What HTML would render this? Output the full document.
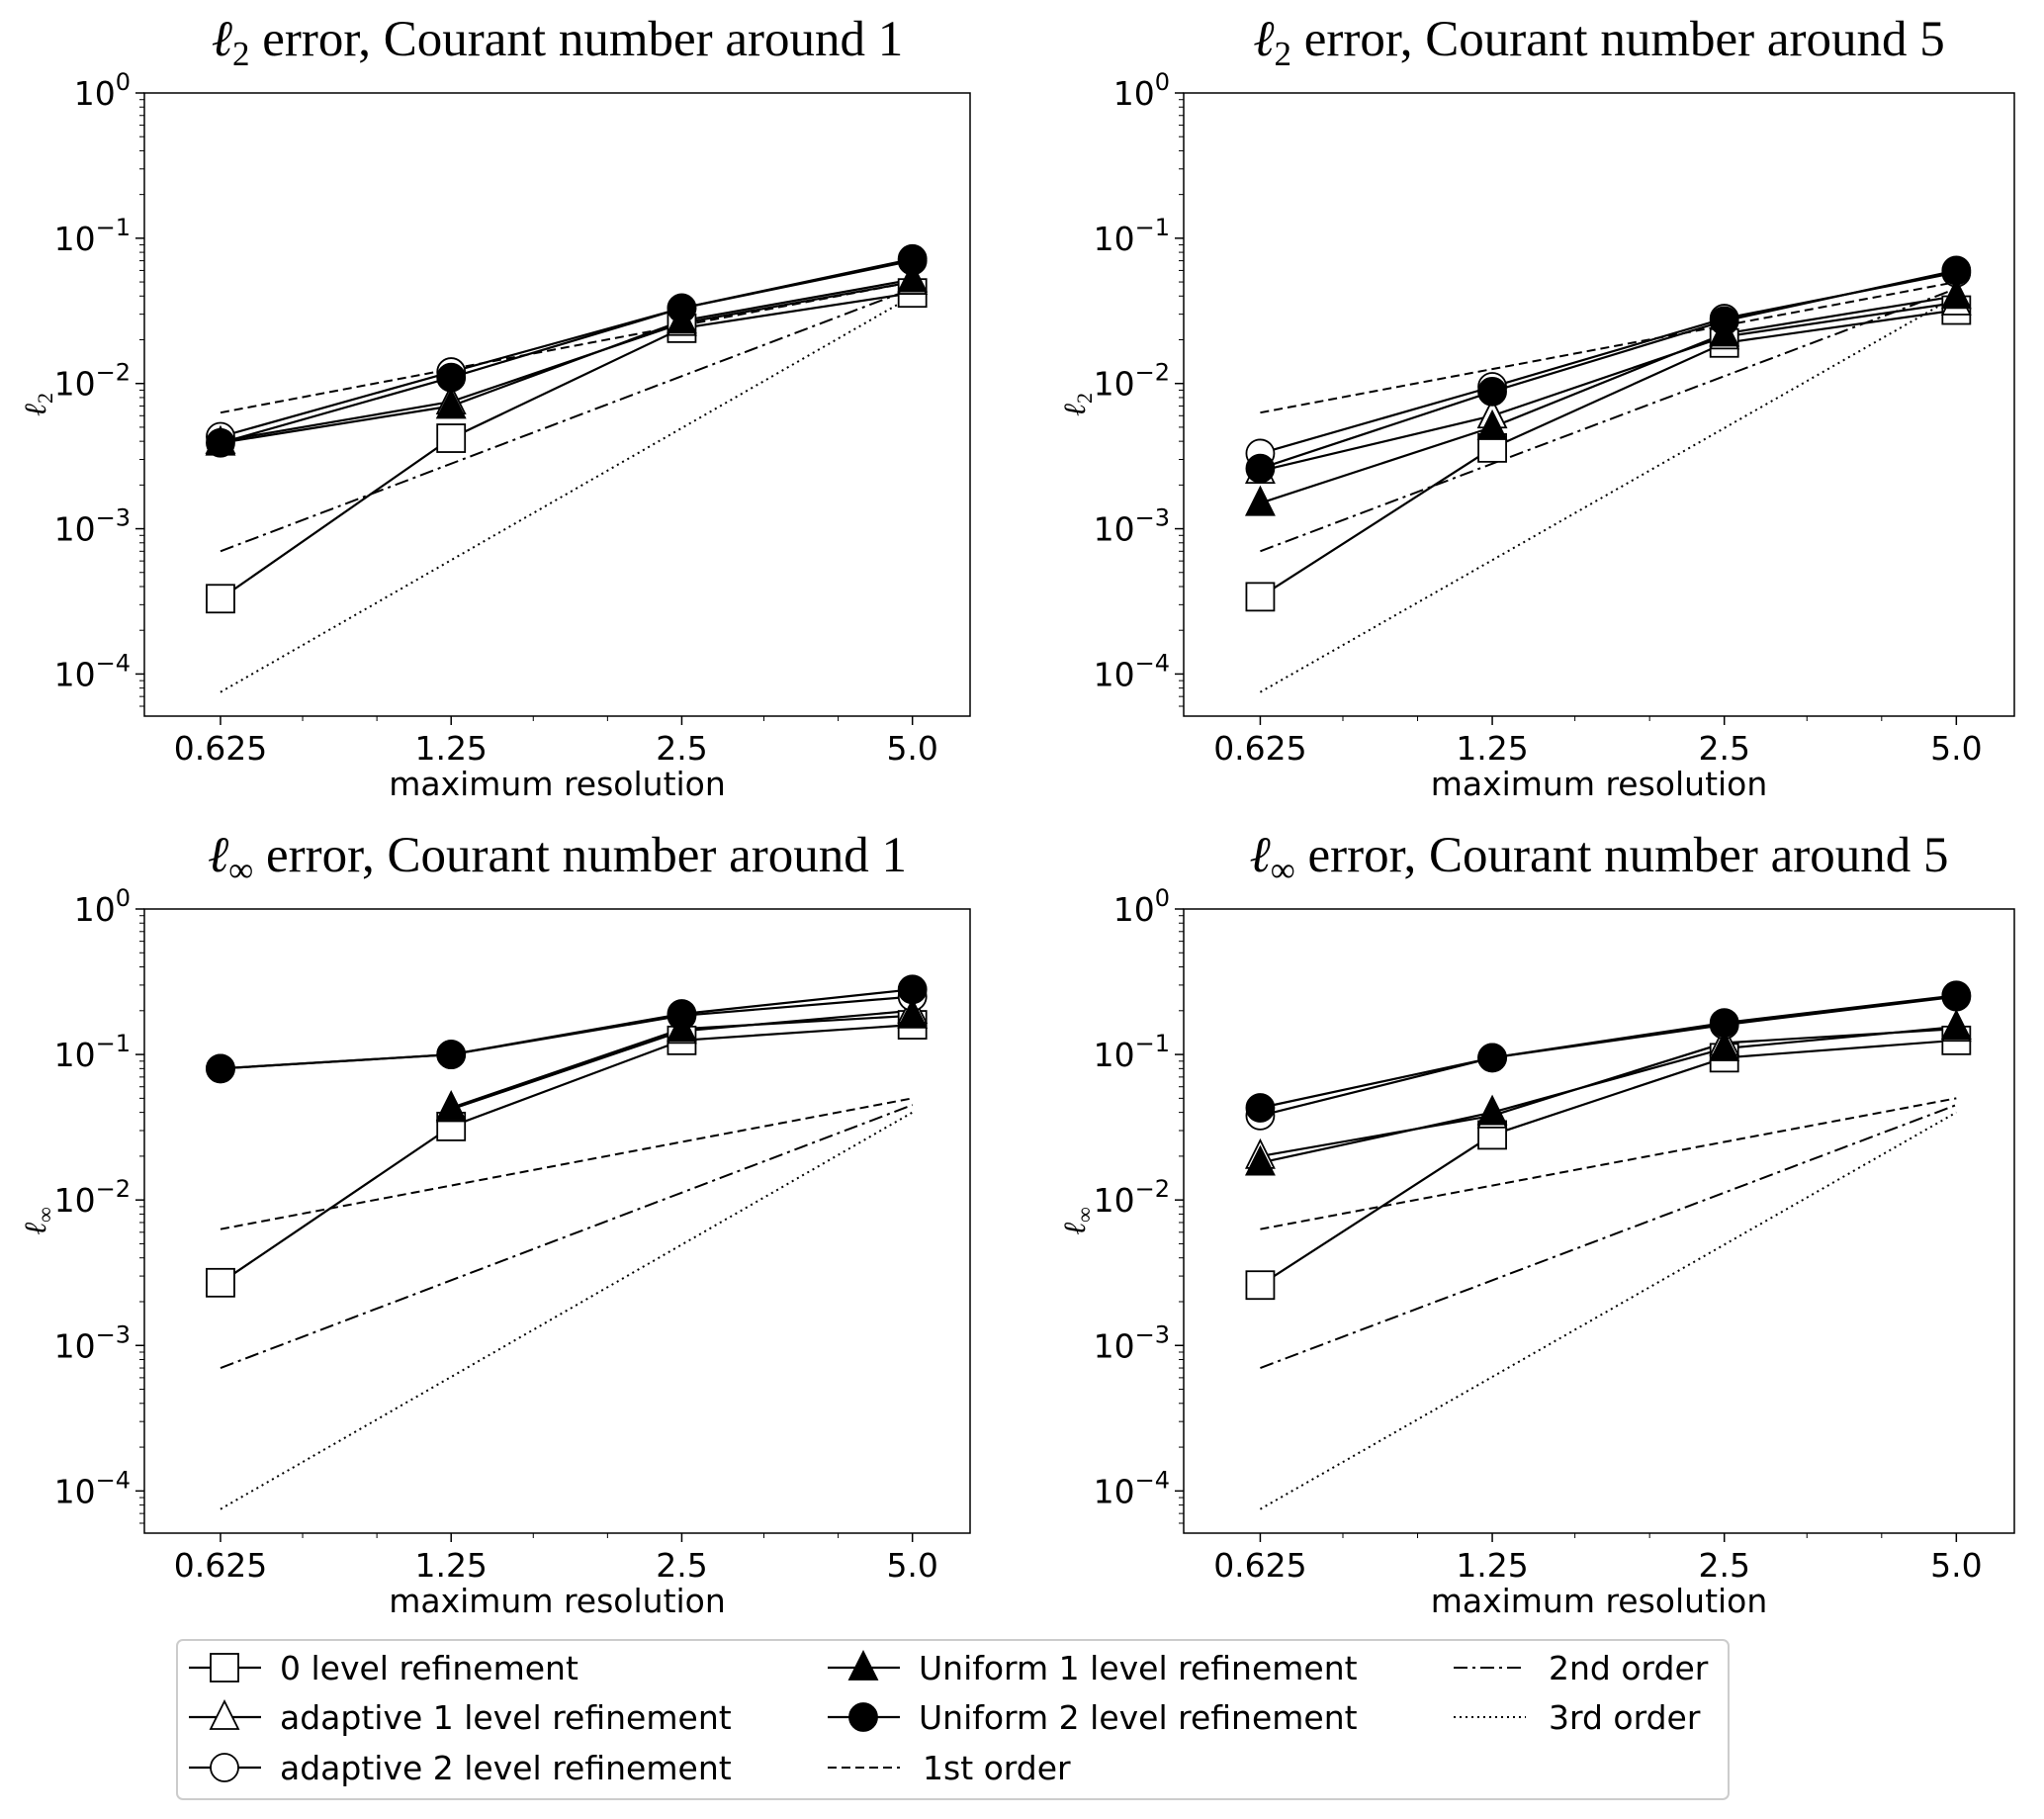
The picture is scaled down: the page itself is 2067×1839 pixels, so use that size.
<!DOCTYPE html>
<html><head><meta charset="utf-8"><style>
html,body{margin:0;padding:0;background:#fff;}
svg{display:block;}
text{fill:#000;}
.sans{font-family:"DejaVu Sans","Liberation Sans",sans-serif;}
.serif{font-family:"Liberation Serif","DejaVu Serif",serif;}
</style></head><body>
<svg id="fig" width="2067" height="1839" viewBox="0 0 2067 1839" xmlns="http://www.w3.org/2000/svg"></svg>
<script>
const xCats = [0.625, 1.25, 2.5, 5.0];
const xTickLabels = ["0.625", "1.25", "2.5", "5.0"];
const yTickExps = [0, -1, -2, -3, -4];
const refFirst = [0.0063, 0.05];
const refSecond = [0.0007, 0.045];
const refThird = [0.000075, 0.04];
// panel TL: l2, Courant 1
const tlSquare = [3.3e-4, 4.2e-3, 0.024, 0.042];
const tlAdapt1 = [4.0e-3, 7.5e-3, 0.026, 0.050];
const tlAdapt2 = [4.3e-3, 0.012, 0.033, 0.070];
const tlUni1 = [3.9e-3, 0.0070, 0.027, 0.052];
const tlUni2 = [3.9e-3, 0.011, 0.033, 0.072];
// panel TR: l2, Courant 5
const trSquare = [3.4e-4, 3.6e-3, 0.019, 0.032];
const trAdapt1 = [2.5e-3, 6.0e-3, 0.021, 0.036];
const trAdapt2 = [3.3e-3, 9.5e-3, 0.028, 0.058];
const trUni1 = [1.5e-3, 5.0e-3, 0.022, 0.040];
const trUni2 = [2.6e-3, 8.8e-3, 0.027, 0.060];
// panel BL: linf, Courant 1
const blSquare = [2.7e-3, 0.032, 0.125, 0.16];
const blAdapt1 = [null, 0.042, 0.145, 0.20];
const blAdapt2 = [0.080, 0.100, 0.185, 0.25];
const blUni1 = [null, 0.043, 0.150, 0.185];
const blUni2 = [0.080, 0.100, 0.190, 0.28];
// panel BR: linf, Courant 5
const brSquare = [2.6e-3, 0.028, 0.095, 0.125];
const brAdapt1 = [0.020, 0.038, 0.120, 0.150];
const brAdapt2 = [0.038, 0.095, 0.160, 0.250];
const brUni1 = [0.018, 0.040, 0.110, 0.155];
const brUni2 = [0.043, 0.095, 0.165, 0.255];

const NS = "http://www.w3.org/2000/svg";
const svg = document.getElementById('fig');
function mk(tag, attrs, parent){const e=document.createElementNS(NS,tag);for(const k in attrs)e.setAttribute(k,attrs[k]);(parent||svg).appendChild(e);return e;}

const panels = [
  {key:'tl', left:146, right:981, top:94, bottom:724, sq:tlSquare,a1:tlAdapt1,a2:tlAdapt2,u1:tlUni1,u2:tlUni2, title:'error, Courant number around 1', sub:'2'},
  {key:'tr', left:1197, right:2037, top:94, bottom:724, sq:trSquare,a1:trAdapt1,a2:trAdapt2,u1:trUni1,u2:trUni2, title:'error, Courant number around 5', sub:'2'},
  {key:'bl', left:146, right:981, top:919, bottom:1550, sq:blSquare,a1:blAdapt1,a2:blAdapt2,u1:blUni1,u2:blUni2, title:'error, Courant number around 1', sub:'∞'},
  {key:'br', left:1197, right:2037, top:919, bottom:1550, sq:brSquare,a1:brAdapt1,a2:brAdapt2,u1:brUni1,u2:brUni2, title:'error, Courant number around 5', sub:'∞'}
];

panels.forEach(p=>{
  const g = mk('g',{});
  
  
  const W = p.right-p.left, H = p.bottom-p.top;
  const xminL = Math.log2(0.625)-0.33, xmaxL = Math.log2(5.0)+0.25;
  const yTop = 0, yBot = -4.29;
  const xs = v => p.left + (Math.log2(v)-xminL)/(xmaxL-xminL)*W;
  const ys = v => p.top + (yTop-Math.log10(v))/(yTop-yBot)*H;
  const cid='clip-'+p.key;
  const cp = mk('clipPath',{id:cid},g); mk('rect',{x:p.left,y:p.top,width:W,height:H},cp);
  const plot = mk('g',{'clip-path':'url(#'+cid+')'},g);
  const t = mk('text',{x:(p.left+p.right)/2, y:p.top-38, 'text-anchor':'middle','font-size':51,class:'serif'},g);
  
  
  t.innerHTML = '<tspan font-style="italic">ℓ</tspan><tspan font-size="35" dy="10">'+p.sub+'</tspan><tspan dy="-10"> '+p.title+'</tspan>';
  yTickExps.forEach(e=>{
    const y = ys(Math.pow(10,e));
    mk('line',{x1:p.left-9,x2:p.left,y1:y,y2:y,stroke:'#000','stroke-width':1.5},g);
    const tl = mk('text',{x:p.left-14,y:y+12,'text-anchor':'end','font-size':33,class:'sans'},g);
    
    
    tl.innerHTML = '10<tspan font-size="24" dy="-15">'+(e===0?'0':'−'+(-e))+'</tspan>';
    for(let m=2;m<10;m++){const v=m*Math.pow(10,e-1);const yy=ys(v); if(yy<=p.bottom&&yy>=p.top) mk('line',{x1:p.left-5,x2:p.left,y1:yy,y2:yy,stroke:'#000','stroke-width':1},g);}
  });
  xCats.forEach((c,i)=>{
    const x = xs(c);
    mk('line',{x1:x,x2:x,y1:p.bottom,y2:p.bottom+9,stroke:'#000','stroke-width':1.5},g);
    const tl = mk('text',{x:x,y:p.bottom+44,'text-anchor':'middle','font-size':33,class:'sans'},g);
    
    
    tl.textContent = xTickLabels[i];
  });
  [0.8,1.0,1.6,2.0,3.2,4.0,6.0].forEach(v=>{const x=xs(v); if(x>p.left&&x<p.right) mk('line',{x1:x,x2:x,y1:p.bottom,y2:p.bottom+5,stroke:'#000','stroke-width':1},g);});
  const xl = mk('text',{x:(p.left+p.right)/2,y:p.bottom+80,'text-anchor':'middle','font-size':33,class:'sans'},g);
  
  
  xl.textContent='maximum resolution';
  const yl = mk('text',{x:0,y:0,'text-anchor':'middle','font-size':31,class:'serif',transform:'translate('+(p.left-100)+','+((p.top+p.bottom)/2)+') rotate(-90)'},g);
  
  
  yl.innerHTML='<tspan font-style="italic">ℓ</tspan><tspan font-size="22" dy="7">'+p.sub+'</tspan>';
  [[refFirst,'9,5','ref-1st-order'],[refSecond,'14,5,3,5','ref-2nd-order'],[refThird,'2,4','ref-3rd-order']].forEach(r=>{
    const l = mk('line',{x1:xs(xCats[0]),y1:ys(r[0][0]),x2:xs(xCats[3]),y2:ys(r[0][1]),stroke:'#000','stroke-width':2,'stroke-dasharray':r[1]},plot);
    
    
  });
  const series = [[p.sq,'square','series-0-level'],[p.a1,'tri-open','series-adaptive-1'],[p.a2,'circ-open','series-adaptive-2'],[p.u1,'tri-fill','series-uniform-1'],[p.u2,'circ-fill','series-uniform-2']];
  series.forEach(s=>{
    const vals=s[0]; let d=''; let started=false;
    vals.forEach((v,i)=>{ if(v==null){started=false;return;} d+=(started?'L':'M')+xs(xCats[i]).toFixed(1)+','+ys(v).toFixed(1); started=true;});
    const path = mk('path',{d:d,fill:'none',stroke:'#000','stroke-width':2.2},plot);
    
    
  });
  series.forEach(s=>{
    s[0].forEach((v,i)=>{
      if(v==null) return;
      const m = marker(s[1], xs(xCats[i]), ys(v), plot);
      
      
    });
  });
  mk('rect',{x:p.left,y:p.top,width:W,height:H,fill:'none',stroke:'#000','stroke-width':1.5},g);
});

function marker(type,x,y,parent){
  const r=14;
  if(type==='square') return mk('rect',{x:x-r,y:y-r,width:2*r,height:2*r,fill:'#fff',stroke:'#000','stroke-width':1.8},parent);
  if(type==='tri-open'||type==='tri-fill') return mk('polygon',{points:(x)+','+(y-r-2)+' '+(x-r)+','+(y+r-2)+' '+(x+r)+','+(y+r-2),fill:type==='tri-fill'?'#000':'#fff',stroke:'#000','stroke-width':1.8},parent);
  return mk('circle',{cx:x,cy:y,r:r,fill:type==='circ-fill'?'#000':'#fff',stroke:'#000','stroke-width':1.8},parent);
}

const lg = mk('g',{});


mk('rect',{x:179,y:1658,width:1569,height:161,rx:6,fill:'#fff',stroke:'#ccc','stroke-width':2},lg);
const legendItems = [
  [191,1686,'square','0 level refinement',null],
  [191,1736,'tri-open','adaptive 1 level refinement',null],
  [191,1787,'circ-open','adaptive 2 level refinement',null],
  [837,1686,'tri-fill','Uniform 1 level refinement',null],
  [837,1736,'circ-fill','Uniform 2 level refinement',null],
  [837,1787,null,'1st order','9,5'],
  [1470,1686,null,'2nd order','14,5,3,5'],
  [1470,1736,null,'3rd order','2,4']
];
legendItems.forEach(it=>{
  const eg = mk('g',{},lg);
  
  
  const x=it[0], y=it[1];
  if(it[2]){
    mk('line',{x1:x,x2:x+73,y1:y,y2:y,stroke:'#000','stroke-width':2.2},eg);
    marker(it[2],x+36,y,eg);
  } else {
    mk('line',{x1:x,x2:x+73,y1:y,y2:y,stroke:'#000','stroke-width':2,'stroke-dasharray':it[4]},eg);
  }
  const tx = mk('text',{x:x+(it[2]?92:96),y:y+12,'font-size':33,class:'sans'},eg);
  tx.textContent = it[3];
});
</script>
</body></html>
